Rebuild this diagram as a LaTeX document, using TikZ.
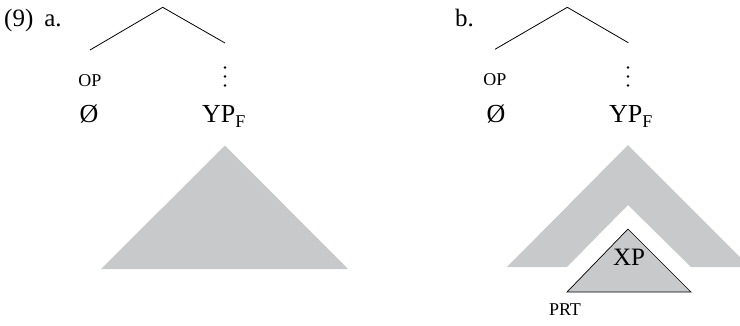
\documentclass[tikz,border=0pt]{standalone}
\usepackage{fontspec}
\setmainfont{Liberation Serif}
\definecolor{treegray}{RGB}{200,201,203}
\begin{document}
\begin{tikzpicture}[x=1pt,y=-1pt,
  branch/.style={line width=0.8pt,black},
  big/.style={inner sep=0pt,anchor=base,font=\fontsize{26}{28}\selectfont},
  smallcap/.style={inner sep=0pt,anchor=base,font=\fontsize{18}{20}\selectfont},
  shade/.style={fill=treegray,draw=none},
  dot/.style={circle,fill=black,inner sep=0pt,minimum size=2.6pt}]
\useasboundingbox (0,0) rectangle (740,325);
% labels
\node[inner sep=0pt,anchor=base west,font=\fontsize{25}{27}\selectfont] (lbla) at (4,26) {(9)\hspace{11pt}a.};
\node[inner sep=0pt,anchor=base west,font=\fontsize{25}{27}\selectfont] (lblb) at (455,26) {b.};
% tree a
\coordinate (topa) at (162.7,7.3);
\coordinate (la) at (90,50);
\coordinate (ra) at (225,43);
\draw[branch] (la) -- (topa) -- (ra);
\node[smallcap] (opa) at (90,86.5) {OP};
\node[dot] (da1) at (225,67.5) {};
\node[dot] (da2) at (225,76.5) {};
\node[dot] (da3) at (225,85.5) {};
\node[big] (nulla) at (89,122) {Ø};
\node[big,anchor=base west] (ypa) at (202,122) {YP\raisebox{-5pt}{\fontsize{18}{20}\selectfont F}};
\path[shade] (225,145.5) -- (348,269) -- (101,269) -- cycle;
% tree b
\coordinate (topb) at (567.3,7.3);
\coordinate (lb) at (495,49.3);
\coordinate (rb) at (628.3,42.7);
\draw[branch] (lb) -- (topb) -- (rb);
\node[smallcap] (opb) at (495,85.5) {OP};
\node[dot] (db1) at (628,67.5) {};
\node[dot] (db2) at (628,76.5) {};
\node[dot] (db3) at (628,85.5) {};
\node[big] (nullb) at (496,122) {Ø};
\node[big,anchor=base west] (ypb) at (609,122) {YP\raisebox{-5pt}{\fontsize{18}{20}\selectfont F}};
\path[shade] (628,145) -- (740,257) -- (740,267) -- (691,267) -- (628,205) -- (567,267) -- (507,267) -- cycle;
\path[fill=treegray,draw=black,line width=0.7pt] (628,229) -- (691,292) -- (567,292) -- cycle;
\node[inner sep=0pt,anchor=base,font=\fontsize{25}{27}\selectfont] (xp) at (629,265) {XP};
\node[smallcap] (prt) at (565,315) {PRT};
\end{tikzpicture}
\end{document}
